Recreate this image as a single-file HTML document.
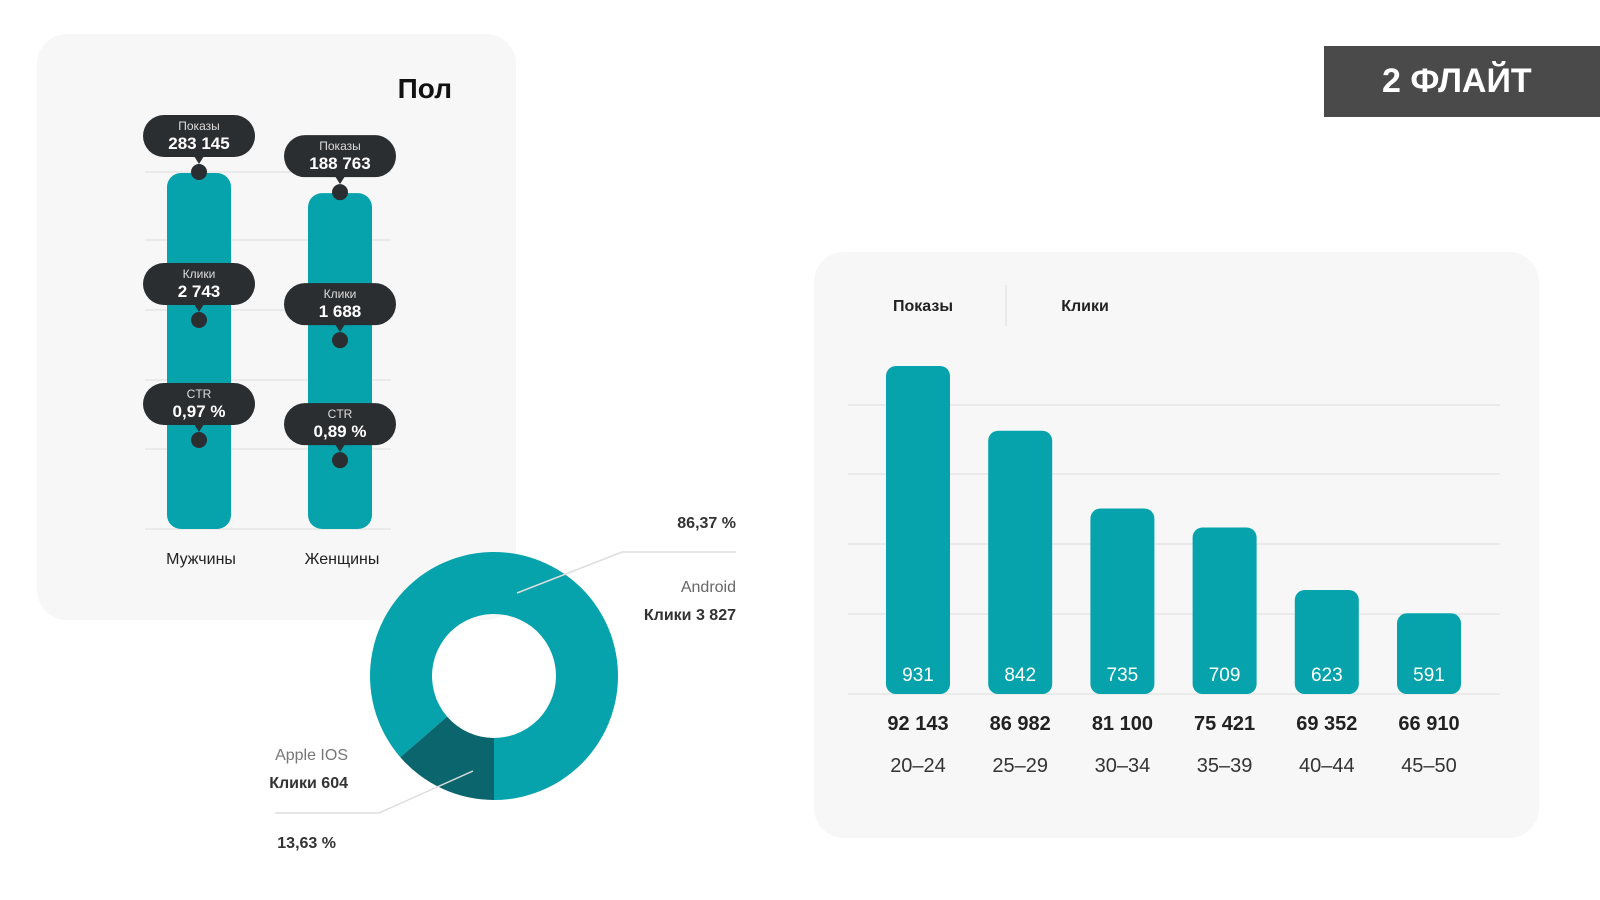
<!DOCTYPE html>
<html><head><meta charset="utf-8"><style>
body{margin:0;width:1600px;height:900px;background:#fff;font-family:"Liberation Sans","Noto Sans CJK SC",sans-serif;overflow:hidden;position:relative}
.card{position:absolute;background:#f7f7f7;border-radius:30px}
svg{position:absolute;left:0;top:0}
</style></head><body>
<div class="card" style="left:37px;top:34px;width:479px;height:586px"></div>
<div class="card" style="left:814px;top:252px;width:725px;height:586px"></div>
<div style="position:absolute;left:1324px;top:46px;width:276px;height:71px;background:#4a4a4a;color:#fff;font-weight:bold;font-size:34px;line-height:71px;padding-left:58px;box-sizing:border-box">2 ФЛАЙТ</div>
<svg id="s" width="1600" height="900"></svg>
<script>
const genderCats=["Мужчины","Женщины"];
const genderShows=[283145,188763];
const genderShowsLbl=["283 145","188 763"];
const genderClicksLbl=["2 743","1 688"];
const genderCtrLbl=["0,97 %","0,89 %"];
const ageCats=["20–24","25–29","30–34","35–39","40–44","45–50"];
const ageClicks=[931,842,735,709,623,591];
const ageShowsLbl=["92 143","86 982","81 100","75 421","69 352","66 910"];
const osCats=["Android","Apple IOS"];
const osClicks=[3827,604];
const osPctLbl=["86,37 %","13,63 %"];

const NS="http://www.w3.org/2000/svg",S=document.getElementById('s');
function el(t,a,txt){const e=document.createElementNS(NS,t);for(const k in a)e.setAttribute(k,a[k]);if(txt!=null)e.textContent=txt;S.appendChild(e);return e;}
const teal="#06a3ad",dark="#2b2e31";

// ---- gender chart
let t=el('text',{x:452,y:98,'text-anchor':'end','font-size':28,'font-weight':'bold',fill:'#111'},'Пол');

[172,240,310,380,449,529].forEach(y=>{const g=el('line',{x1:145,x2:391,y1:y,y2:y,stroke:'#ddd','stroke-width':1});
});
const gBase=529,gTopMax=173;
function gy2(v){return gBase-(gBase-gTopMax)*(0.83+0.17*v/genderShows[0]);}
const gx=i=>199+i*141;
genderCats.forEach((c,i)=>{
  const top=gy2(genderShows[i]),cx=gx(i);
  const b=el('rect',{x:cx-32,y:top,width:64,height:gBase-top,rx:14,fill:teal});
  
  const l=el('text',{x:cx+2,y:564,'text-anchor':'middle','font-size':16,fill:'#222'},c);
  
  const dots=[top-1,top+147,top+267];
  const heads=["Показы","Клики","CTR"],vals=[genderShowsLbl[i],genderClicksLbl[i],genderCtrLbl[i]];
  dots.forEach((dy,k)=>{
    const d=el('circle',{cx:cx,cy:dy,r:8,fill:dark});
    
    const by=dy-57;
    const r=el('rect',{x:cx-56,y:by,width:112,height:42,rx:21,fill:dark});
    
    el('path',{d:`M${cx-5} ${by+41} L${cx+5} ${by+41} L${cx} ${by+49}Z`,fill:dark});
    const h=el('text',{x:cx,y:by+15,'text-anchor':'middle','font-size':12,fill:'#ddd'},heads[k]);
    
    const v=el('text',{x:cx,y:by+34,'text-anchor':'middle','font-size':17,'font-weight':'bold',fill:'#fff'},vals[k]);
    
  });
});

// ---- donut
const cx0=494,cy0=676,R=124,r0=62,tot=osClicks[0]+osClicks[1];
el('defs',{}).innerHTML='<filter id="sh" x="-30%" y="-30%" width="160%" height="160%"><feDropShadow dx="0" dy="8" stdDeviation="10" flood-opacity="0.25"/></filter>';
function arc(a0,a1,col,name){
  const p=(a,r)=>[cx0+r*Math.cos(a),cy0+r*Math.sin(a)],lg=(a1-a0)>Math.PI?1:0;
  const [x1,y1]=p(a0,R),[x2,y2]=p(a1,R),[x3,y3]=p(a1,r0),[x4,y4]=p(a0,r0);
  const e=el('path',{d:`M${x1} ${y1}A${R} ${R} 0 ${lg} 1 ${x2} ${y2}L${x3} ${y3}A${r0} ${r0} 0 ${lg} 0 ${x4} ${y4}Z`,fill:col});
  }
const iosA=osClicks[1]/tot*2*Math.PI,st=Math.PI/2;
arc(st+iosA,st+2*Math.PI,teal,'donut-android');
arc(st,st+iosA,'#0a666c','donut-ios');
el('path',{d:'M517 593 L622 552 L736 552',stroke:'#ddd',fill:'none','stroke-width':1.5});
el('path',{d:'M473 771 L379 813 L275 813',stroke:'#ddd',fill:'none','stroke-width':1.5});
[[736,528,osPctLbl[0],'bold',16,'#333','android-percent'],[736,592,osCats[0],'normal',16,'#666','android-label'],[736,620,'Клики 3 827','bold',16,'#333','android-clicks'],
 [348,760,osCats[1],'normal',16,'#777','ios-label'],[348,788,'Клики '+osClicks[1],'bold',16,'#333','ios-clicks'],[336,848,osPctLbl[1],'bold',16,'#333','ios-percent']].forEach(a=>{
  const e=el('text',{x:a[0],y:a[1],'text-anchor':'end','font-weight':a[3],'font-size':a[4],fill:a[5]},a[2]);
  });

// ---- age chart
const lg1=el('text',{x:923,y:311,'text-anchor':'middle','font-size':16,'font-weight':'bold',fill:'#222'},'Показы');

el('line',{x1:1006,x2:1006,y1:285,y2:326,stroke:'#ddd'});
const lg2=el('text',{x:1085,y:311,'text-anchor':'middle','font-size':16,'font-weight':'bold',fill:'#222'},'Клики');

[405,474,544,614,694].forEach(y=>{const g=el('line',{x1:848,x2:1500,y1:y,y2:y,stroke:'#ddd'});
});
const aBase=694,aMin=480,aMax=931,aH=328;
const ay=v=>aBase-Math.max(40,(v-aMin)/(aMax-aMin)*aH);
const ax=i=>918+i*102.2;
ageCats.forEach((c,i)=>{
  const x=ax(i),top=ay(ageClicks[i]);
  const b=el('rect',{x:x-32,y:top,width:64,height:aBase-top,rx:10,fill:teal});
  
  const v=el('text',{x:x,y:681,'text-anchor':'middle','font-size':19,fill:'#fff'},ageClicks[i]);
  
  const s=el('text',{x:x,y:730,'text-anchor':'middle','font-size':20,'font-weight':'bold',fill:'#222'},ageShowsLbl[i]);
  
  const a=el('text',{x:x,y:772,'text-anchor':'middle','font-size':20,fill:'#333'},c);
  
});
</script>
</body></html>
